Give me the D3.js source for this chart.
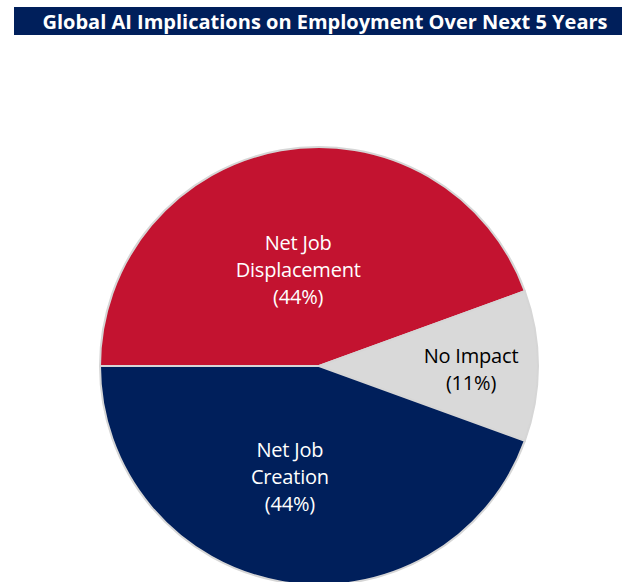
<!DOCTYPE html>
<html><head><meta charset="utf-8">
<script src="https://cdn.jsdelivr.net/npm/d3@7"></script>
<style>body{margin:0;background:#fff;}svg{display:block;}</style>
</head><body>
<svg id="c" width="630" height="582"></svg>
<script>
const title = "Global AI Implications on Employment Over Next 5 Years";
const categories = ["Net Job Displacement", "No Impact", "Net Job Creation"];
const labelLines = [["Net Job", "Displacement"], ["No Impact"], ["Net Job", "Creation"]];
const values = [44, 11, 44];
const colors = ["#c31330", "#d9d9d9", "#001f5b"];
const textColors = ["#ffffff", "#000000", "#ffffff"];

const svg = d3.select("#c");
svg.append("rect").attr("x", 14).attr("y", 7).attr("width", 608).attr("height", 28).attr("fill", "#001f5b");
svg.append("text").attr("x", 325).attr("y", 29).attr("text-anchor", "middle")
  .attr("fill", "#fff").attr("font-family", "'Open Sans', sans-serif").attr("font-weight", "bold")
  .attr("font-size", 20).text(title);

const cx = 319, cy = 366, R = 219;
const g = svg.append("g").attr("transform", `translate(${cx},${cy})`);
const pie = d3.pie().sort(null).startAngle(-Math.PI / 2).endAngle(1.5 * Math.PI);
const arcs = pie(values);
const arc = d3.arc().innerRadius(0).outerRadius(R);
g.selectAll("path").data(arcs).join("path")
  .attr("d", arc).attr("fill", (d, i) => colors[i])
  .attr("stroke", "#d6d6d6").attr("stroke-width", 2);

const labelR = [97, 152, 110];
const labelShift = [[-4, 0], [0, 3], [-10, 3]];
const lh = 27;
arcs.forEach((d, i) => {
  const a = (d.startAngle + d.endAngle) / 2;
  const x = labelR[i] * Math.sin(a) + labelShift[i][0];
  const y = -labelR[i] * Math.cos(a) + labelShift[i][1];
  const lines = labelLines[i].concat([`(${values[i]}%)`]);
  const t = g.append("text").attr("text-anchor", "middle")
    .attr("font-family", "'Open Sans', sans-serif").attr("font-size", 20)
    .attr("letter-spacing", -0.2)
    .attr("fill", textColors[i]);
  lines.forEach((ln, k) => {
    t.append("tspan").attr("x", x).attr("y", y + (k - (lines.length - 1) / 2) * lh + 7).text(ln);
  });
});
</script>
</body></html>
